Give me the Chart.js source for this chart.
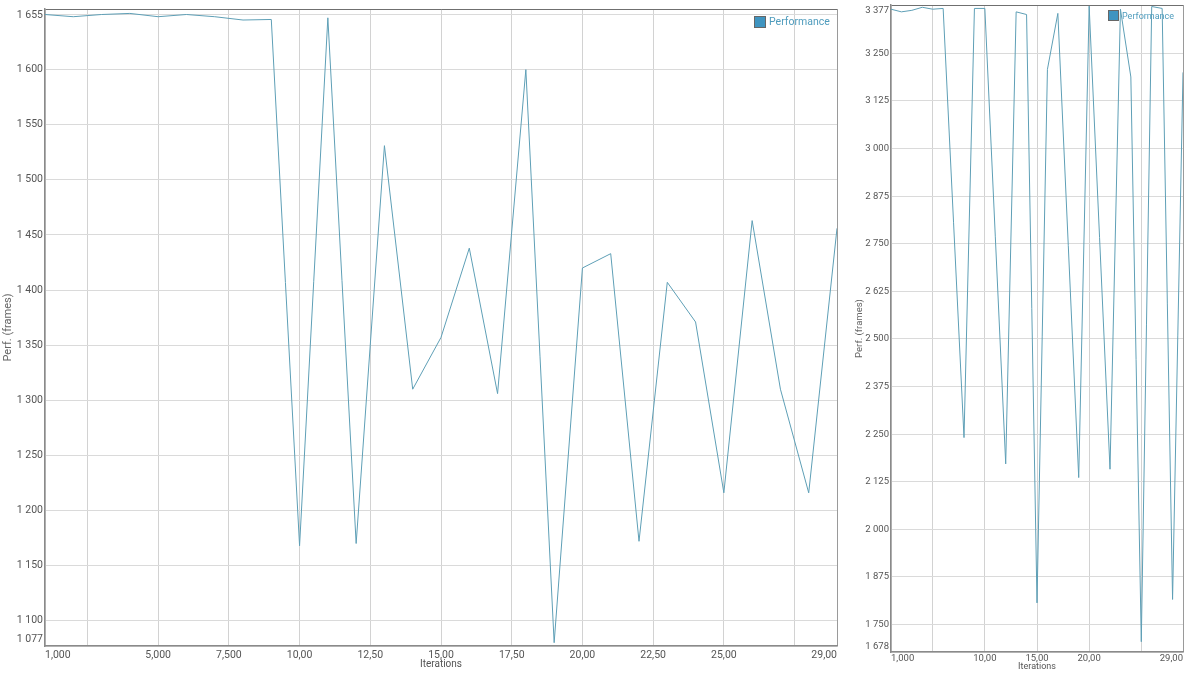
<!DOCTYPE html>
<html lang="en">
<head>
  <meta charset="UTF-8" />
  <title>Performance</title>
  <script src="https://cdn.jsdelivr.net/npm/chart.js"></script>
  <style>
    body {
      margin: 0;
      background: #fff;
      font-family: Roboto, sans-serif;
    }

    .wrap {
      position: relative;
      width: 1200px;
      height: 675px;
      overflow: hidden;
    }

    .panel {
      position: absolute;
      top: 0;
      height: 675px;
    }

    #leftPanel { left: 0; width: 842px; }
    #rightPanel { left: 842px; width: 358px; }

    .legend {
      position: absolute;
      display: flex;
      align-items: center;
      color: #4f9cbd;
      white-space: nowrap;
    }

    .legend .box {
      display: inline-block;
      background: #3f94c0;
      border: 1px solid #666;
      box-sizing: border-box;
      margin-right: 3px;
    }
  </style>
</head>
<body>
  <div class="wrap">
    <div class="panel" id="leftPanel"><canvas id="leftChart"></canvas></div>
    <div class="panel" id="rightPanel"><canvas id="rightChart"></canvas></div>

    <div class="legend" style="left: 754px; top: 15px; font-size: 10.5px;">
      <span class="box" style="width: 12px; height: 12px;"></span>Performance
    </div>
    <div class="legend" style="left: 1108px; top: 10px; font-size: 9px;">
      <span class="box" style="width: 11px; height: 11px;"></span>Performance
    </div>
  </div>

  <script>
    const iterations = [1, 2, 3, 4, 5, 6, 7, 8, 9, 10, 11, 12, 13, 14, 15,
      16, 17, 18, 19, 20, 21, 22, 23, 24, 25, 26, 27, 28, 29];

    // left run (frames)
    const leftPerf = [1650, 1648, 1650, 1651, 1648, 1650, 1648, 1645, 1645.5, 1168,
      1647, 1170, 1531, 1310, 1357, 1438, 1306, 1600, 1080, 1420,
      1433, 1172, 1407, 1371, 1216, 1463, 1310, 1216, 1456];

    // right run (frames)
    const rightPerf = [3366, 3359, 3363, 3371, 3366, 3368, 2805, 2241, 3368, 3368,
      2770, 2172, 3359, 3352, 1807, 3208, 3355, 2745, 2136, 3374,
      2766, 2158, 3366, 3188, 1705, 3373, 3368, 1816, 3200];

    const leftYTicks = [1077, 1100, 1150, 1200, 1250, 1300, 1350, 1400, 1450,
      1500, 1550, 1600, 1650, 1655];
    const leftYLabels = ['1 077', '1 100', '1 150', '1 200', '1 250', '1 300', '1 350',
      '1 400', '1 450', '1 500', '1 550', '1 600', '', '1 655'];
    const leftXTicks = [1, 2.5, 5, 7.5, 10, 12.5, 15, 17.5, 20, 22.5, 25, 27.5, 29];
    const leftXLabels = ['1,000', '', '5,000', '7,500', '10,00', '12,50', '15,00',
      '17,50', '20,00', '22,50', '25,00', '', '29,00'];

    const rightYTicks = [1678, 1750, 1875, 2000, 2125, 2250, 2375, 2500, 2625,
      2750, 2875, 3000, 3125, 3250, 3375, 3377];
    const rightYLabels = ['1 678', '1 750', '1 875', '2 000', '2 125', '2 250', '2 375',
      '2 500', '2 625', '2 750', '2 875', '3 000', '3 125', '3 250', '', '3 377'];
    const rightXTicks = [1, 5, 10, 15, 20, 25, 29];
    const rightXLabels = ['1,000', '', '10,00', '15,00', '20,00', '', '29,00'];

    const LINE_COLOR = '#5e9fb6';

    function makeChart(id, values, cfg) {
      const yMin = cfg.yTicks[0];
      const yMax = cfg.yTicks[cfg.yTicks.length - 1];
      const xMin = cfg.xTicks[0];
      const xMax = cfg.xTicks[cfg.xTicks.length - 1];

      return new Chart(document.getElementById(id), {
        type: 'line',
        data: {
          datasets: [{
            label: 'Performance',
            data: iterations.map((it, i) => ({ x: it, y: values[i] })),
            borderColor: LINE_COLOR,
            borderWidth: 1,
            pointRadius: 0,
            tension: 0,
            fill: false
          }]
        },
        options: {
          responsive: true,
          maintainAspectRatio: false,
          animation: false,
          layout: { padding: cfg.padding },
          plugins: {
            legend: { display: false },
            tooltip: { enabled: false }
          },
          scales: {
            x: {
              type: 'linear',
              min: xMin,
              max: xMax,
              afterBuildTicks: s => { s.ticks = cfg.xTicks.map(v => ({ value: v })); },
              afterFit: s => {
                s.height = cfg.xHeight;
                s.paddingLeft = 0;
                s.paddingRight = 0;
              },
              ticks: {
                autoSkip: false,
                maxRotation: 0,
                align: 'inner',
                padding: cfg.xPad,
                color: '#555',
                font: { family: 'Roboto', size: cfg.tickSize },
                callback: (v, i) => cfg.xLabels[i]
              },
              grid: {
                drawTicks: false,
                color: c => (c.tick && c.tick.value === xMax) ? '#9a9a9a' : '#d2d2d2'
              },
              border: { color: '#8a8a8a', width: 1.5 },
              title: {
                display: true,
                text: 'Iterations',
                color: '#555',
                font: { family: 'Roboto', size: cfg.titleSize },
                padding: { top: 0, bottom: cfg.xTitlePad }
              }
            },
            y: {
              min: yMin,
              max: yMax,
              afterBuildTicks: s => { s.ticks = cfg.yTicks.map(v => ({ value: v })); },
              afterFit: s => {
                s.width = cfg.yWidth;
                // end labels sit inside the box, so no extra room above/below
                s.paddingTop = 0;
                s.paddingBottom = 0;
              },
              ticks: {
                padding: 2,
                color: '#555',
                font: { family: 'Roboto', size: cfg.tickSize },
                callback: (v, i) => {
                  const lab = cfg.yLabels[i];
                  if (i === cfg.yTicks.length - 1) return ['', lab];
                  if (i === 0) return [lab, ''];
                  return lab;
                }
              },
              grid: {
                drawTicks: false,
                color: c => (c.tick && c.tick.value === yMax) ? '#6f6f6f' : '#dadada'
              },
              border: { color: '#8a8a8a', width: 1.5 },
              title: {
                display: true,
                text: 'Perf. (frames)',
                color: '#666',
                font: { family: 'Roboto', size: cfg.yTitleSize },
                padding: { top: cfg.yTitlePad, bottom: 0 }
              }
            }
          }
        }
      });
    }

    makeChart('leftChart', leftPerf, {
      yTicks: leftYTicks, yLabels: leftYLabels,
      xTicks: leftXTicks, xLabels: leftXLabels,
      padding: { top: 9, right: 5, left: 0, bottom: 0 },
      yWidth: 45, xHeight: 29, xPad: 3, xTitlePad: 5,
      tickSize: 10.5, titleSize: 10, yTitleSize: 11, yTitlePad: 2
    });

    makeChart('rightChart', rightPerf, {
      yTicks: rightYTicks, yLabels: rightYLabels,
      xTicks: rightXTicks, xLabels: rightXLabels,
      padding: { top: 5, right: 17, left: 0, bottom: 0 },
      yWidth: 49, xHeight: 23, xPad: 1, xTitlePad: 3,
      tickSize: 9.5, titleSize: 9, yTitleSize: 9.5, yTitlePad: 12
    });
  </script>
</body>
</html>
